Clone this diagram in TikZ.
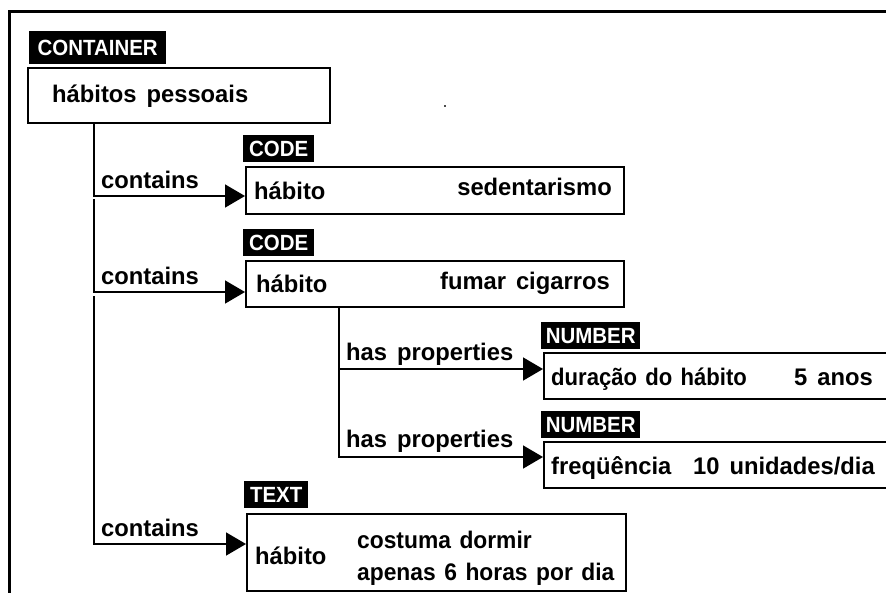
\documentclass[tikz,border=0pt]{standalone}
\usepackage{fontspec}
\setmainfont{Liberation Sans}
\newfontfamily\bodyfont[FakeStretch=0.99, WordSpace=1.5]{Liberation Sans}
\newfontfamily\midbody[FakeStretch=0.95, WordSpace=1.35]{Liberation Sans}
\newfontfamily\narrowbody[FakeStretch=0.92, WordSpace=1.35]{Liberation Sans}
\newfontfamily\tagfontfam[FakeStretch=0.93]{Liberation Sans}
\usetikzlibrary{arrows.meta}
\begin{document}
\begin{tikzpicture}[x=1pt,y=-1pt,
  every node/.style={font=\bodyfont\bfseries\fontsize{24}{28}\selectfont, inner sep=0pt},
  tag/.style={fill=black, text=white, anchor=north west, minimum height=27pt,
              font=\tagfontfam\bfseries\fontsize{22}{26}\selectfont},
  frame/.style={draw, line width=1.6pt, anchor=north west, fill=white},
  link/.style={line width=1.6pt, -{Triangle[length=20pt,width=23pt]}},
  lbl/.style={anchor=base west},
  lblr/.style={anchor=base east},
  mid/.style={font=\midbody\bfseries\fontsize{24}{28}\selectfont},
  narrow/.style={font=\narrowbody\bfseries\fontsize{24}{28}\selectfont},
]
\clip (0,0) rectangle (886,592);
\fill[white] (0,0) rectangle (886,592);

% outer border
\draw[line width=3pt] (9.5,595) -- (9.5,11) -- (890,11);

% container
\node[tag, minimum width=137pt, minimum height=33pt] (tagRoot) at (29,31) {CONTAINER};
\node[frame, minimum width=302pt, minimum height=55pt] (root) at (27,67) {};
\node[lbl] (rootTxt) at (52,102) {hábitos pessoais};

% first code
\node[tag, minimum width=71pt] (tagCode1) at (243,135) {CODE};
\node[frame, minimum width=378pt, minimum height=47pt] (box1) at (245,166) {};
\node[lbl] (key1) at (254,199) {hábito};
\node[lblr] (val1) at (612,195) {sedentarismo};

% second code
\node[tag, minimum width=71pt] (tagCode2) at (243,229) {CODE};
\node[frame, minimum width=378pt, minimum height=46pt] (box2) at (245,260) {};
\node[lbl] (key2) at (256,292) {hábito};
\node[lblr] (val2) at (610,289) {fumar cigarros};

% numbers
\node[tag, minimum width=99pt] (tagNum1) at (541,322) {NUMBER};
\node[frame, minimum width=360pt, minimum height=46pt] (box3) at (543,352) {};
\node[lbl, narrow] (key3) at (551,385) {duração do hábito};
\node[lblr] (val3) at (873,385) {5 anos};

\node[tag, minimum width=99pt] (tagNum2) at (541,411) {NUMBER};
\node[frame, minimum width=360pt, minimum height=46pt] (box4) at (543,441) {};
\node[lbl] (key4) at (551,474) {freqüência};
\node[lblr] (val4) at (875,474) {10 unidades/dia};

% text
\node[tag, minimum width=64pt] (tagText) at (244,481) {TEXT};
\node[frame, minimum width=379pt, minimum height=77pt] (box5) at (246,513) {};
\node[lbl] (key5) at (255,564) {hábito};
\node[lbl, mid] (val5a) at (357,548) {costuma dormir};
\node[lbl, mid] (val5b) at (357,580) {apenas 6 horas por dia};

% connectors from the container
\coordinate (j1) at (94,196);
\coordinate (j2a) at (94,199);
\coordinate (j2) at (94,292);
\coordinate (j3a) at (94,296);
\coordinate (j3) at (94,544);
\draw[link] (root.south -| j1) -- (j1) -- (box1.west |- j1);
\draw[link] (j2a) -- (j2) -- (box2.west |- j2);
\draw[link] (j3a) -- (j3) -- (box5.west |- j3);
\node[lbl] (rel1) at (101,188) {contains};
\node[lbl] (rel2) at (101,284) {contains};
\node[lbl] (rel3) at (101,536) {contains};

% property connectors
\coordinate (k1) at (339,369);
\coordinate (k2) at (339,457);
\draw[link] (box2.south -| k1) -- (k2) -- (box4.west |- k2);
\draw[link] (k1) -- (box3.west |- k1);
\node[lbl] (rel4) at (346,360) {has properties};
\node[lbl] (rel5) at (346,447) {has properties};

% stray speck
\fill[black!70] (443.5,105) rectangle (445.5,107);
\end{tikzpicture}
\end{document}
